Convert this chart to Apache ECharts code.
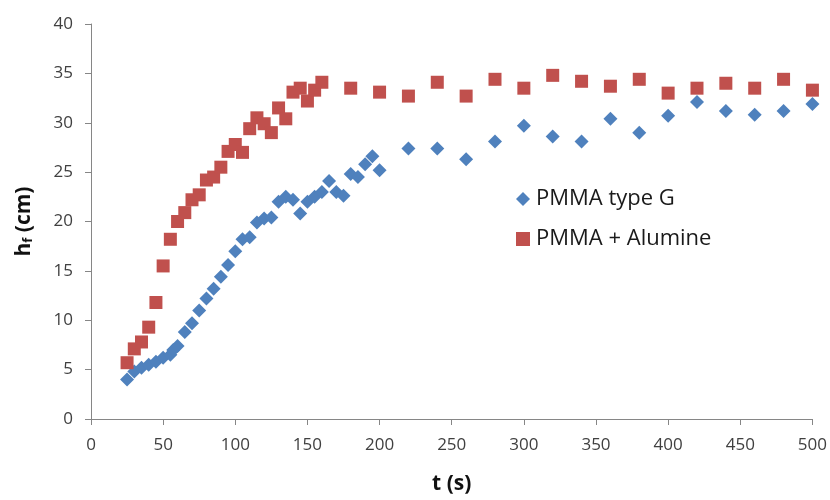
<!DOCTYPE html>
<html><head><meta charset="utf-8">
<script src="https://cdn.jsdelivr.net/npm/echarts@6/dist/echarts.min.js"></script>
<style>html,body{margin:0;padding:0;background:#fff}#c{width:830px;height:500px}</style>
</head><body><div id="c"></div>
<script>
var tG = [25,30,35,40,45,50,55,57,60,65,70,75,80,85,90,95,100,105,110,115,120,125,130,135,140,145,150,155,160,165,170,175,180,185,190,195,200,220,240,260,280,300,320,340,360,380,400,420,440,460,480,500];
var hG = [4.0,4.8,5.2,5.5,5.8,6.2,6.5,7.0,7.4,8.8,9.7,11.0,12.2,13.2,14.4,15.6,17.0,18.2,18.4,19.9,20.3,20.4,22.0,22.5,22.2,20.8,22.0,22.5,23.0,24.1,23.0,22.6,24.8,24.5,25.8,26.6,25.2,27.4,27.4,26.3,28.1,29.7,28.6,28.1,30.4,29.0,30.7,32.1,31.2,30.8,31.2,31.9];
var tA = [25,30,35,40,45,50,55,60,65,70,75,80,85,90,95,100,105,110,115,120,125,130,135,140,145,150,155,160,180,200,220,240,260,280,300,320,340,360,380,400,420,440,460,480,500];
var hA = [5.7,7.1,7.8,9.3,11.8,15.5,18.2,20.0,20.9,22.2,22.7,24.2,24.5,25.5,27.1,27.8,27.0,29.4,30.5,29.9,29.0,31.5,30.4,33.1,33.5,32.2,33.3,34.1,33.5,33.1,32.7,34.1,32.7,34.4,33.5,34.8,34.2,33.7,34.4,33.0,33.5,34.0,33.5,34.4,33.3];
var nameG = 'PMMA type G', nameA = 'PMMA + Alumine';
function pairs(x, y){ return x.map(function(v,i){ return [v, y[i]]; }); }
var font = 'Open Sans';
var chart = echarts.init(document.getElementById('c'));
chart.setOption({
  animation: false,
  textStyle: {fontFamily: font},
  grid: {left: 91, right: 14, top: 24, bottom: 79},
  legend: {
    orient: 'vertical', left: 511, top: 183, itemGap: 18,
    itemWidth: 14, itemHeight: 14,
    textStyle: {fontSize: 22, color: '#1a1a1a', fontFamily: font, padding: [0,0,0,1]},
    data: [{name: nameG, icon: 'diamond'}, {name: nameA, icon: 'rect'}]
  },
  xAxis: {
    type: 'value', min: 0, max: 500, interval: 50,
    name: 't (s)', nameLocation: 'middle', nameGap: 55,
    nameTextStyle: {fontSize: 21, fontWeight: 'bold', color: '#111'},
    axisLine: {lineStyle: {color: '#868686'}},
    axisTick: {show: true, length: 6, lineStyle: {color: '#868686'}},
    axisLabel: {fontSize: 17, color: '#404040', margin: 18},
    splitLine: {show: false}
  },
  yAxis: {
    type: 'value', min: 0, max: 40, interval: 5,
    name: '{a|h}{b|f}{a| (cm)}', nameLocation: 'middle', nameGap: 56, nameRotate: 90,
    nameTextStyle: {rich: {
      a: {fontSize: 21, fontWeight: 'bold', color: '#111', fontFamily: font},
      b: {fontSize: 13, fontWeight: 'bold', color: '#111', fontFamily: font, verticalAlign: 'bottom', padding: [8,0,0,0]}
    }},
    axisLine: {show: true, lineStyle: {color: '#868686'}},
    axisTick: {show: true, length: 6, lineStyle: {color: '#868686'}},
    axisLabel: {fontSize: 17, color: '#404040', margin: 18},
    splitLine: {show: false}
  },
  series: [
    {name: nameG, type: 'scatter', symbol: 'diamond', symbolSize: 14,
     itemStyle: {color: '#4F81BD', opacity: 1}, data: pairs(tG, hG), z: 2},
    {name: nameA, type: 'scatter', symbol: 'rect', symbolSize: 13,
     itemStyle: {color: '#C0504D', opacity: 1}, data: pairs(tA, hA), z: 3}
  ]
});
</script></body></html>
